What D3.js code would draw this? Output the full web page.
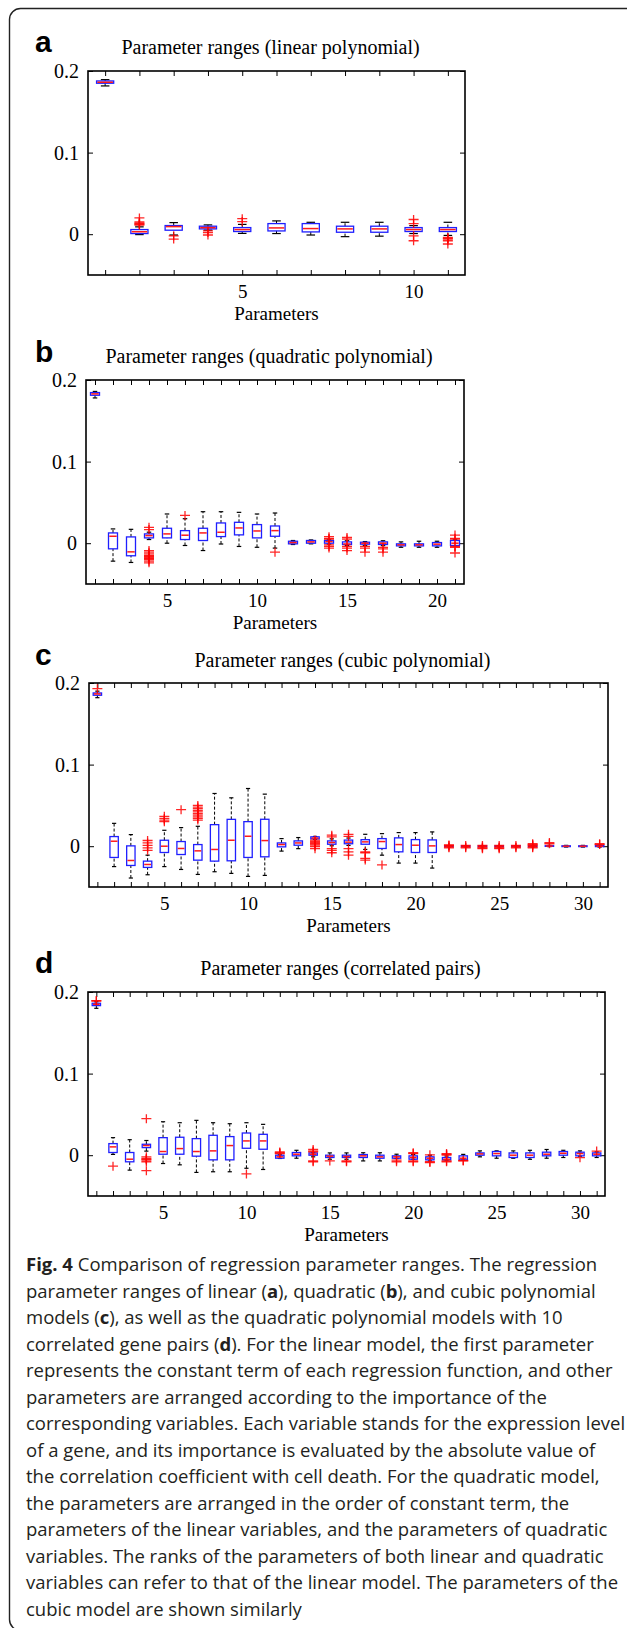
<!DOCTYPE html>
<html>
<head>
<meta charset="utf-8">
<script src="https://cdn.jsdelivr.net/npm/d3@7"></script>
<style>
  body { margin: 0; background: #fff; }
  svg { display: block; }
</style>
</head>
<body>
<svg id="fig" width="627" height="1628"></svg>
<script>
// panel labels, titles and tick labels
const panelLetters = ["a", "b", "c", "d"];
const panelTitles = [
  "Parameter ranges (linear polynomial)",
  "Parameter ranges (quadratic polynomial)",
  "Parameter ranges (cubic polynomial)",
  "Parameter ranges (correlated pairs)"
];
const yTicks = [0, 0.1, 0.2];
const linearTicks = [5, 10];
const quadTicks = [5, 10, 15, 20];
const cubicTicks = [5, 10, 15, 20, 25, 30];
const pairTicks = [5, 10, 15, 20, 25, 30];

// box stats per parameter: [lower whisker, q1, median, q3, upper whisker]
const linearStats = [
  [0.1817, 0.185, 0.1862, 0.1878, 0.1894],
  [-0.0005, 0.0008, 0.003, 0.0057, 0.009],
  [-0.001, 0.0049, 0.0093, 0.0106, 0.0142],
  [0.005, 0.0065, 0.008, 0.0098, 0.0114],
  [0.001, 0.0033, 0.0057, 0.0081, 0.012],
  [0.0008, 0.004, 0.0077, 0.013, 0.0163],
  [-0.001, 0.0028, 0.0069, 0.013, 0.0146],
  [-0.003, 0.0024, 0.0065, 0.0098, 0.0146],
  [-0.0024, 0.0024, 0.0065, 0.0098, 0.0146],
  [0.0008, 0.0033, 0.0057, 0.0081, 0.0105],
  [-0.0015, 0.0033, 0.0057, 0.0081, 0.0146]
];
const linearOutliers = [
  [], [0.011, 0.012, 0.013, 0.014, 0.015, 0.02], [-0.002, -0.006], [0.004, 0.002, -0.001],
  [0.0155, 0.019], [], [], [], [], [0.013, 0.018, -0.002, -0.008],
  [-0.004, -0.005, -0.006, -0.008, -0.012]
];

const quadStats = [
  [0.178, 0.1813, 0.183, 0.1846, 0.186],
  [-0.022, -0.0069, 0.0085, 0.0126, 0.0175],
  [-0.0236, -0.0154, -0.0106, 0.0077, 0.017],
  [0.0045, 0.0065, 0.0093, 0.0114, 0.0135],
  [0, 0.0065, 0.0114, 0.0183, 0.0358],
  [-0.0028, 0.0045, 0.0098, 0.0154, 0.030],
  [-0.009, 0.0033, 0.0126, 0.0183, 0.0386],
  [-0.001, 0.0081, 0.0134, 0.0248, 0.0386],
  [-0.004, 0.0102, 0.0187, 0.0256, 0.0378],
  [-0.005, 0.0065, 0.015, 0.0228, 0.0358],
  [-0.006, 0.0085, 0.0154, 0.0211, 0.037],
  [-0.0016, -0.0008, 0.0008, 0.0024, 0.0033],
  [-0.0008, 0, 0.0016, 0.0033, 0.004],
  [-0.001, 0, 0.002, 0.0033, 0.004],
  [-0.003, -0.0016, -0.001, 0.0016, 0.003],
  [-0.003, -0.0012, 0, 0.0012, 0.002],
  [-0.003, -0.0016, 0, 0.0016, 0.003],
  [-0.005, -0.0033, -0.002, -0.0008, 0.0016],
  [-0.005, -0.0033, -0.002, -0.0008, 0.0024],
  [-0.005, -0.0033, -0.0012, 0.0008, 0.0024],
  [-0.003, -0.0028, 0, 0.0033, 0.004]
];
const quadOutliers = [
  [], [], [],
  [0.0167, 0.0195, -0.009, -0.011, -0.013, -0.015, -0.016, -0.017, -0.018, -0.019, -0.02, -0.022, -0.024],
  [], [0.034], [], [], [], [], [-0.011], [], [],
  [0.005, 0.006, 0.008, -0.002, -0.004, -0.006],
  [-0.004, -0.006, -0.009, 0.005, 0.007],
  [-0.004, -0.006, -0.011],
  [-0.005, -0.007, -0.011],
  [], [], [],
  [0.005, 0.006, 0.010, -0.004, -0.005, -0.012]
];

const cubicStats = [
  [0.182, 0.185, 0.1866, 0.1878, 0.190],
  [-0.025, -0.0138, 0.0061, 0.0118, 0.028],
  [-0.039, -0.0236, -0.0175, 0.0004, 0.0142],
  [-0.035, -0.026, -0.0224, -0.0183, -0.011],
  [-0.025, -0.0077, 0, 0.0073, 0.0195],
  [-0.0285, -0.0102, -0.0028, 0.0057, 0.0228],
  [-0.0346, -0.0171, -0.0057, 0.002, 0.0244],
  [-0.0313, -0.0183, -0.004, 0.0264, 0.0646],
  [-0.0333, -0.0179, 0.0073, 0.0329, 0.0593],
  [-0.037, -0.0138, 0.0122, 0.0301, 0.0707],
  [-0.0358, -0.013, 0.0069, 0.033, 0.0638],
  [-0.006, -0.0008, 0.002, 0.004, 0.0093],
  [-0.003, 0.0012, 0.004, 0.0065, 0.0106],
  [0.0085, 0.009, 0.010, 0.0115, 0.012],
  [0.0005, 0.0024, 0.0045, 0.0065, 0.009],
  [0.001, 0.003, 0.005, 0.0075, 0.010],
  [-0.004, 0.0024, 0.0053, 0.008, 0.0146],
  [-0.011, -0.0028, 0.0057, 0.0093, 0.0154],
  [-0.0207, -0.0069, 0.002, 0.0102, 0.0167],
  [-0.0207, -0.0077, 0.0012, 0.0081, 0.0167],
  [-0.0268, -0.0077, 0.0004, 0.0077, 0.0175],
  [-0.0006, -0.0003, 0, 0.0003, 0.0006],
  [-0.0006, -0.0003, 0, 0.0003, 0.0006],
  [-0.0006, -0.0003, 0, 0.0003, 0.0006],
  [-0.0006, -0.0003, 0, 0.0003, 0.0006],
  [-0.0006, -0.0003, 0, 0.0003, 0.0006],
  [-0.0006, -0.0003, 0, 0.0003, 0.0006],
  [-0.0005, -0.0002, 0.0002, 0.0006, 0.001],
  [-0.001, -0.0005, 0, 0.0005, 0.001],
  [-0.001, -0.0005, 0, 0.0005, 0.001],
  [-0.001, -0.0005, 0, 0.0008, 0.0012]
];
const cubicOutliers = [
  [0.193], [], [],
  [0.007, 0.004, 0.001, -0.002, -0.005],
  [0.030, 0.032, 0.034, 0.0366],
  [0.0447],
  [0.032, 0.034, 0.036, 0.038, 0.040, 0.042, 0.044, 0.046, 0.048, 0.050],
  [], [], [], [], [], [],
  [0.0075, 0.006, 0.0045, 0.003, 0.0015, -0.0005, -0.003],
  [0.0115, 0.0135, -0.003, -0.005, -0.008],
  [0.012, 0.0145, -0.003, -0.007, -0.011],
  [-0.007, -0.008, -0.015, -0.017],
  [-0.023], [], [], [],
  [0.0015, 0.001, -0.001, -0.002],
  [0.001, -0.001, -0.002],
  [0.001, -0.001, -0.002, -0.003],
  [0.001, -0.001, -0.002, -0.003],
  [0.001, -0.001, -0.002],
  [0.003, 0.002, 0.001, -0.001, -0.002],
  [0.003, 0.0045],
  [], [],
  [0.002, 0.003]
];

const pairStats = [
  [0.180, 0.1833, 0.185, 0.1862, 0.188],
  [0.001, 0.0033, 0.0102, 0.0142, 0.0215],
  [-0.0183, -0.0081, -0.0049, 0.0033, 0.019],
  [0.005, 0.0093, 0.0118, 0.0134, 0.018],
  [-0.0102, 0.0012, 0.0045, 0.0215, 0.041],
  [-0.0118, 0.0012, 0.0081, 0.022, 0.0398],
  [-0.0211, -0.0012, 0.0045, 0.0203, 0.0427],
  [-0.0203, -0.0057, 0.0053, 0.0244, 0.0398],
  [-0.0203, -0.0057, 0.0118, 0.0228, 0.0386],
  [-0.016, 0.0085, 0.0175, 0.0272, 0.0398],
  [-0.0175, 0.0073, 0.0175, 0.0256, 0.0378],
  [-0.004, -0.0037, -0.002, 0, 0.0005],
  [-0.0037, -0.0008, 0.0012, 0.0033, 0.006],
  [-0.002, 0, 0.0012, 0.0028, 0.003],
  [-0.005, -0.0028, -0.0012, 0, 0.0028],
  [-0.005, -0.0028, -0.0016, 0, 0.0028],
  [-0.007, -0.0028, -0.0008, 0.0008, 0.003],
  [-0.007, -0.0037, -0.002, 0, 0.003],
  [-0.004, -0.0037, -0.002, -0.0008, 0.0012],
  [-0.005, -0.0049, -0.0028, -0.0008, 0.001],
  [-0.007, -0.0057, -0.0037, -0.002, 0],
  [-0.006, -0.0057, -0.0049, -0.0028, -0.001],
  [-0.006, -0.0057, -0.0037, -0.0008, 0.001],
  [-0.002, 0, 0.0016, 0.0028, 0.0053],
  [-0.0037, -0.0008, 0.002, 0.0045, 0.0053],
  [-0.0037, -0.0028, 0, 0.0028, 0.0053],
  [-0.005, -0.0028, 0, 0.0028, 0.006],
  [-0.0037, -0.0008, 0.0012, 0.0037, 0.007],
  [-0.0028, 0, 0.0024, 0.0045, 0.006],
  [-0.0012, -0.0008, 0.002, 0.0037, 0.0053],
  [-0.0028, -0.0008, 0.0012, 0.0028, 0.004]
];
const pairOutliers = [
  [0.189, 0.1895], [-0.0134], [],
  [0.0447, -0.002, -0.004, -0.005, -0.006, -0.008, -0.019],
  [], [], [], [], [], [-0.023], [],
  [0.002, 0.003, 0.004], [],
  [0.004, 0.005, 0.007, -0.007, -0.008],
  [-0.007], [-0.007, -0.008], [], [],
  [-0.006, -0.008],
  [0.002, 0.003, -0.007, -0.008],
  [0.0005, -0.008, -0.009],
  [0.001, 0.002, 0, -0.007, -0.008],
  [-0.0065, -0.007],
  [], [], [], [], [], [],
  [-0.003], [0.005]
];

const captionLines = [
  "**Fig. 4** Comparison of regression parameter ranges. The regression",
  "parameter ranges of linear (**a**), quadratic (**b**), and cubic polynomial",
  "models (**c**), as well as the quadratic polynomial models with 10",
  "correlated gene pairs (**d**). For the linear model, the first parameter",
  "represents the constant term of each regression function, and other",
  "parameters are arranged according to the importance of the",
  "corresponding variables. Each variable stands for the expression level",
  "of a gene, and its importance is evaluated by the absolute value of",
  "the correlation coefficient with cell death. For the quadratic model,",
  "the parameters are arranged in the order of constant term, the",
  "parameters of the linear variables, and the parameters of quadratic",
  "variables. The ranks of the parameters of both linear and quadratic",
  "variables can refer to that of the linear model. The parameters of the",
  "cubic model are shown similarly"
];

const panels = [
  { stats: linearStats, outliers: linearOutliers, ticks: linearTicks, x0: 88, x1: 465, y0: 71, y1: 275, titleY: 48, letterY: 52 },
  { stats: quadStats, outliers: quadOutliers, ticks: quadTicks, x0: 86, x1: 464, y0: 380, y1: 584, titleY: 357, letterY: 362 },
  { stats: cubicStats, outliers: cubicOutliers, ticks: cubicTicks, x0: 89, x1: 608, y0: 683, y1: 887, titleY: 661, letterY: 665 },
  { stats: pairStats, outliers: pairOutliers, ticks: pairTicks, x0: 88, x1: 605, y0: 992, y1: 1196, titleY: 969, letterY: 973 }
];

const svg = d3.select("#fig");
const serif = "'Liberation Serif', 'Times New Roman', serif";

// outer frame (rounded, partly cut by the page edge)
svg.append("rect")
  .attr("x", 9.5).attr("y", 8.5)
  .attr("width", 630).attr("height", 1622)
  .attr("rx", 11)
  .attr("fill", "none")
  .attr("stroke", "#222")
  .attr("stroke-width", 1.4);

panels.forEach((p, i) => {
  const n = p.stats.length;
  const x = d3.scaleLinear().domain([0.5, n + 0.5]).range([p.x0, p.x1]);
  const y = d3.scaleLinear().domain([-0.05, 0.2]).range([p.y1, p.y0]);
  const unit = x(2) - x(1);
  const g = svg.append("g");

  // panel letter and title
  svg.append("text")
    .attr("x", 35).attr("y", p.letterY)
    .attr("font-family", "'Liberation Sans', Arial, sans-serif")
    .attr("font-weight", "bold")
    .attr("font-size", 30)
    .text(panelLetters[i]);

  svg.append("text")
    .attr("x", (p.x0 + p.x1) / 2 - 6).attr("y", p.titleY + 6)
    .attr("text-anchor", "middle")
    .attr("font-family", serif)
    .attr("font-size", 20)
    .text(panelTitles[i]);

  // axes: inward ticks on all four sides
  const idx = d3.range(1, n + 1);
  const bottom = g.append("g")
    .attr("transform", `translate(0,${p.y1})`)
    .call(d3.axisBottom(x).tickValues(idx).tickSize(-5).tickSizeOuter(0).tickPadding(10)
      .tickFormat(d => p.ticks.includes(d) ? d : ""));
  const top = g.append("g")
    .attr("transform", `translate(0,${p.y0})`)
    .call(d3.axisTop(x).tickValues(idx).tickSize(-5).tickSizeOuter(0).tickFormat(""));
  const left = g.append("g")
    .attr("transform", `translate(${p.x0},0)`)
    .call(d3.axisLeft(y).tickValues(yTicks).tickSize(-5).tickSizeOuter(0).tickPadding(9)
      .tickFormat(d => d === 0 ? "0" : String(d)));
  const right = g.append("g")
    .attr("transform", `translate(${p.x1},0)`)
    .call(d3.axisRight(y).tickValues(yTicks).tickSize(-5).tickSizeOuter(0).tickFormat(""));

  [bottom, top, left, right].forEach(a => {
    a.select(".domain").remove();
    a.selectAll(".tick line").attr("stroke", "#000").attr("stroke-width", 1);
    a.selectAll("text")
      .attr("font-family", serif)
      .attr("font-size", 20)
      .attr("fill", "#000");
  });
  bottom.selectAll("text").attr("font-size", 19);

  g.append("rect")
    .attr("x", p.x0).attr("y", p.y0)
    .attr("width", p.x1 - p.x0).attr("height", p.y1 - p.y0)
    .attr("fill", "none")
    .attr("stroke", "#000")
    .attr("stroke-width", 1.6);

  g.append("text")
    .attr("x", (p.x0 + p.x1) / 2).attr("y", p.y1 + 45)
    .attr("text-anchor", "middle")
    .attr("font-family", serif)
    .attr("font-size", 19)
    .text("Parameters");

  // boxes
  const boxes = g.selectAll(".box")
    .data(p.stats)
    .join("g")
    .attr("class", "box");

  const bw = unit * 0.5, cw = unit * 0.25;

  boxes.append("line")
    .attr("x1", (d, j) => x(j + 1)).attr("x2", (d, j) => x(j + 1))
    .attr("y1", d => y(d[3])).attr("y2", d => y(d[4]))
    .attr("stroke", "#000").attr("stroke-width", 1).attr("stroke-dasharray", "3,2");
  boxes.append("line")
    .attr("x1", (d, j) => x(j + 1)).attr("x2", (d, j) => x(j + 1))
    .attr("y1", d => y(d[0])).attr("y2", d => y(d[1]))
    .attr("stroke", "#000").attr("stroke-width", 1).attr("stroke-dasharray", "3,2");
  [0, 4].forEach(k => {
    boxes.append("line")
      .attr("x1", (d, j) => x(j + 1) - cw / 2).attr("x2", (d, j) => x(j + 1) + cw / 2)
      .attr("y1", d => y(d[k])).attr("y2", d => y(d[k]))
      .attr("stroke", "#000").attr("stroke-width", 1.2);
  });
  boxes.append("rect")
    .attr("x", (d, j) => x(j + 1) - bw / 2)
    .attr("width", bw)
    .attr("y", d => y(d[3]))
    .attr("height", d => Math.max(y(d[1]) - y(d[3]), 0.5))
    .attr("fill", "none")
    .attr("stroke", "#1f1fff")
    .attr("stroke-width", 1.3);
  boxes.append("line")
    .attr("x1", (d, j) => x(j + 1) - bw / 2 + 0.8).attr("x2", (d, j) => x(j + 1) + bw / 2 - 0.8)
    .attr("y1", d => y(d[2])).attr("y2", d => y(d[2]))
    .attr("stroke", "#ff1a1a").attr("stroke-width", 1.5);

  // outliers as red plus signs
  const pts = p.outliers.flatMap((list, j) => list.map(v => ({ k: j + 1, v })));
  g.selectAll(".out")
    .data(pts)
    .join("path")
    .attr("class", "out")
    .attr("d", d => {
      const cx = x(d.k), cy = y(d.v);
      return `M${cx - 5},${cy}H${cx + 5}M${cx},${cy - 4.5}V${cy + 4.5}`;
    })
    .attr("stroke", "#ff0000")
    .attr("stroke-opacity", 0.85)
    .attr("stroke-width", 1.3)
    .attr("fill", "none");
});

// caption
const cap = svg.append("text")
  .attr("font-family", "'Open Sans', 'Noto Sans', sans-serif")
  .attr("font-size", 18.5)
  .attr("fill", "#231f20");

captionLines.forEach((line, i) => {
  const row = cap.append("tspan").attr("x", 26).attr("y", 1271 + i * 26.5);
  line.split("**").forEach((part, k) => {
    if (!part) return;
    row.append("tspan")
      .attr("font-weight", k % 2 ? "bold" : null)
      .text(part);
  });
});
</script>
</body>
</html>
